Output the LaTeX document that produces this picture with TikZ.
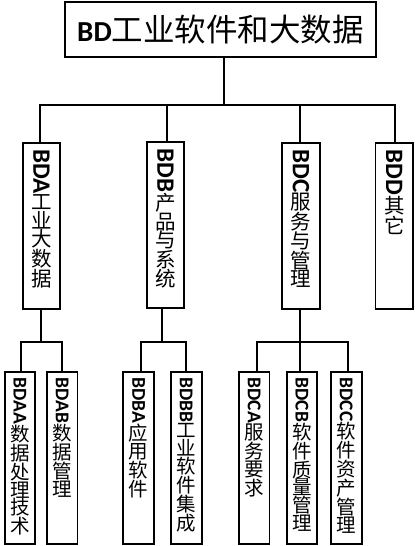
\documentclass[tikz,border=0pt]{standalone}
\usepackage{fontspec}
\setmainfont{Carlito}
\newfontfamily\cjkf{Noto Sans CJK SC}
\usepackage{graphicx}
\newcommand\topbox[2]{\parbox[c][166pt][t]{37.6pt}{\centering\vspace*{6.5pt}\rotatebox{-90}{\fontsize{25}{25}\selectfont\bfseries #1}\par{\cjkf\fontsize{20.5}{18.5}\selectfont #2\par}}}
\newcommand\subbox[2]{\parbox[c][172pt][t]{30.7pt}{\centering\vspace*{5.5pt}\rotatebox{-90}{\fontsize{19.5}{19.5}\selectfont\bfseries #1}\par{\cjkf\fontsize{19.5}{17.8}\selectfont #2\par}}}
\begin{document}
\begin{tikzpicture}[x=1pt,y=-1pt,
  box/.style={draw, line width=1.8pt, inner sep=0pt},
  link/.style={line width=1.8pt}]
\useasboundingbox (0,0) rectangle (415,546);
\node[box, minimum width=311pt, minimum height=55pt] (title) at (220.5,29.5)
  {\textbf{\fontsize{29}{29}\selectfont BD}{\cjkf\fontsize{31.5}{31.5}\selectfont 工业软件和大数据}};
% level 1
\node[box] (bda) at (41.5,226) {\topbox{BDA}{工\\业\\大\\数\\据}};
\node[box] (bdb) at (165.5,225) {\topbox{BDB}{产\\品\\与\\系\\统}};
\node[box] (bdc) at (301,226) {\topbox{BDC}{服\\务\\与\\管\\理}};
\node[box] (bdd) at (394.3,226) {\topbox{BDD}{其\\它}};
% level 2
\node[box] (bdaa) at (20,458) {\subbox{BDAA}{数\\据\\处\\理\\技\\术}};
\node[box] (bdab) at (62.2,458) {\subbox{BDAB}{数\\据\\管\\理}};
\node[box] (bdba) at (138.7,458) {\subbox{BDBA}{应\\用\\软\\件}};
\node[box] (bdbb) at (186.3,458) {\subbox{BDBB}{工\\业\\软\\件\\集\\成}};
\node[box] (bdca) at (254.2,458) {\subbox{BDCA}{服\\务\\要\\求}};
\node[box] (bdcb) at (302,458) {\subbox{BDCB}{软\\件\\质\\量\\管\\理}};
\node[box] (bdcc) at (346.3,458) {\subbox{BDCC}{软\\件\\资\\产\\管\\理}};
% connectors top
\coordinate (bus0) at (224,105);
\draw[link] (title.south -| bus0) -- (bus0);
\draw[link] ([xshift=-1.5pt]bda.north) -- ([xshift=-1.5pt]bda.north |- bus0) -- ([xshift=0.7pt]bdd.north |- bus0) -- ([xshift=0.7pt]bdd.north);
\draw[link] ([xshift=1.2pt]bdb.north |- bus0) -- ([xshift=1.2pt]bdb.north);
\draw[link] ([xshift=-1pt]bdc.north |- bus0) -- ([xshift=-1pt]bdc.north);
% connectors level 2
\coordinate (busA) at (41,341.7);
\draw[link] ([xshift=-0.5pt]bda.south) -- (busA);
\draw[link] ([xshift=0.7pt]bdaa.north) -- ([xshift=0.7pt]bdaa.north |- busA) -- ([xshift=-0.5pt]bdab.north |- busA) -- ([xshift=-0.5pt]bdab.north);
\draw[link] ([xshift=-3.2pt]bdb.south) -- ([xshift=-3.2pt]bdb.south |- busA);
\draw[link] ([xshift=2pt]bdba.north) -- ([xshift=2pt]bdba.north |- busA) -- ([xshift=-0.6pt]bdbb.north |- busA) -- ([xshift=-0.6pt]bdbb.north);
\draw[link] ([xshift=-1pt]bdc.south) -- ([xshift=-1pt]bdc.south |- bdcb.north);
\draw[link] ([xshift=2.5pt]bdca.north) -- ([xshift=2.5pt]bdca.north |- busA) -- ([xshift=1.4pt]bdcc.north |- busA) -- ([xshift=1.4pt]bdcc.north);
\end{tikzpicture}
\end{document}
